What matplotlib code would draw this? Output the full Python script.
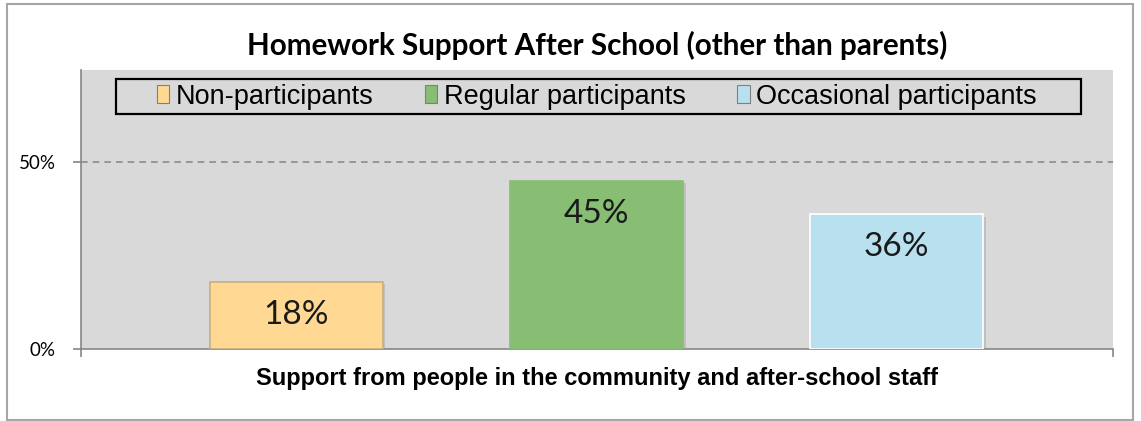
import matplotlib.pyplot as plt
import matplotlib.patheffects as pe
from matplotlib.patches import Rectangle, Patch

title = "Homework Support After School (other than parents)"
xlabel = "Support from people in the community and after-school staff"
groups = ["Non-participants", "Regular participants", "Occasional participants"]
values = [18, 45, 36]
labels = ["18%", "45%", "36%"]
colors = ["#FFD994", "#87BE74", "#B8E0EE"]
edges = ["#C8B080", "#87BE74", "#FFFFFF"]
yticks = [0, 50]
yticklabels = ["0%", "50%"]

W, H = 1141, 421
fig = plt.figure(figsize=(W / 100, H / 100), dpi=100)
fig.patch.set_facecolor("white")
fig.patches.append(Rectangle((7 / W, 1 / H), 1126 / W, 416 / H, transform=fig.transFigure,
                             fill=False, edgecolor="#A6A6A6", linewidth=1.5))

ax = fig.add_axes([81 / W, (H - 349) / H, 1032 / W, 279 / H])
ax.set_facecolor("#D9D9D9")

x = list(range(len(values)))
shadow = [pe.SimplePatchShadow(offset=(2, -2), shadow_rgbFace="#888888", alpha=0.3), pe.Normal()]
bars = ax.bar(x, values, width=0.575, color=colors, edgecolor=edges, linewidth=1.2, zorder=3)
for b in bars:
    b.set_path_effects(shadow)

for b, lab in zip(bars, labels):
    ax.annotate(lab, (b.get_x() + b.get_width() / 2, b.get_height()), xytext=(0, -33),
                textcoords="offset pixels", ha="center", va="center",
                fontsize=24, family="Lato", color="#1a1a1a", zorder=4)

ax.set_xlim(-0.717, 2.72)
ax.set_ylim(0, 74.6)
ax.axhline(50, color="#8C8C8C", linestyle=(0, (4, 3)), linewidth=1.2, zorder=1)

ax.set_yticks(yticks)
ax.set_yticklabels(yticklabels, family="Lato", fontsize=13.5)
ax.set_xticks(ax.get_xlim())
ax.set_xticklabels([])
ax.tick_params(axis="both", direction="out", length=6, color="#868686", width=1.2, pad=12)
for s in ["top", "right"]:
    ax.spines[s].set_visible(False)
for s in ["left", "bottom"]:
    ax.spines[s].set_color("#868686")
    ax.spines[s].set_linewidth(1.2)

handles = [Patch(facecolor=c, edgecolor="#7F7F7F", linewidth=0.8) for c in colors]
leg = ax.legend(handles, groups, ncol=3, loc="center", bbox_to_anchor=(0.5, 0.905),
                frameon=False, handlelength=0.45, handleheight=0.6, handletextpad=0.25,
                columnspacing=1.9, prop={"family": "Liberation Sans", "size": 19.5})
ax.add_patch(Rectangle((0.034, 0.842), 0.935, 0.126, transform=ax.transAxes,
                       fill=False, edgecolor="black", linewidth=1.6, zorder=5))

fig.text(597 / W, 1 - 45 / H, title, ha="center", va="center",
         fontsize=21.3, fontweight="bold", family="Lato")
fig.text(597 / W, 1 - 378 / H, xlabel, ha="center", va="center",
         fontsize=17, fontweight="bold", family="Liberation Sans")

fig.savefig("out.png", dpi=100)
